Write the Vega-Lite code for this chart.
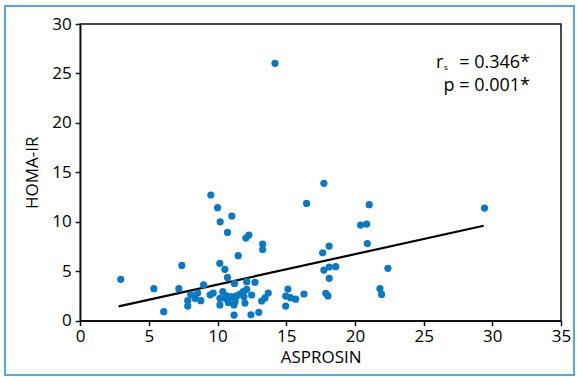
{
  "$schema": "https://vega.github.io/schema/vega-lite/v6.json",
  "width": 569,
  "height": 369,
  "autosize": {"type": "none"},
  "padding": {"left": 5, "top": 6, "right": 3, "bottom": 2},
  "background": "white",
  "config": {
    "view": {"stroke": "#5aa5dc", "strokeWidth": 2},
    "font": "Open Sans"
  },
  "datasets": {
    "points": [
      {"asprosin": 2.95, "homa": 4.18}, {"asprosin": 5.36, "homa": 3.24}, {"asprosin": 6.08, "homa": 0.91},
      {"asprosin": 7.18, "homa": 3.24}, {"asprosin": 7.40, "homa": 5.59}, {"asprosin": 7.83, "homa": 2.02},
      {"asprosin": 7.83, "homa": 1.48}, {"asprosin": 8.05, "homa": 2.65}, {"asprosin": 8.36, "homa": 2.26},
      {"asprosin": 8.55, "homa": 2.8}, {"asprosin": 8.78, "homa": 2.02}, {"asprosin": 8.98, "homa": 3.62},
      {"asprosin": 9.46, "homa": 2.62}, {"asprosin": 9.68, "homa": 2.8}, {"asprosin": 9.51, "homa": 12.71},
      {"asprosin": 10.0, "homa": 11.43}, {"asprosin": 10.19, "homa": 10.0}, {"asprosin": 10.16, "homa": 5.8},
      {"asprosin": 10.53, "homa": 5.19}, {"asprosin": 10.72, "homa": 8.93}, {"asprosin": 10.72, "homa": 4.38},
      {"asprosin": 10.38, "homa": 2.93}, {"asprosin": 10.17, "homa": 2.26}, {"asprosin": 10.17, "homa": 1.59},
      {"asprosin": 10.55, "homa": 2.26}, {"asprosin": 10.66, "homa": 2.5}, {"asprosin": 10.78, "homa": 1.85},
      {"asprosin": 11.03, "homa": 2.43}, {"asprosin": 11.04, "homa": 10.58}, {"asprosin": 11.23, "homa": 3.77},
      {"asprosin": 11.2, "homa": 0.57}, {"asprosin": 11.27, "homa": 2.26}, {"asprosin": 11.19, "homa": 1.59},
      {"asprosin": 11.27, "homa": 1.92}, {"asprosin": 11.39, "homa": 2.5}, {"asprosin": 11.5, "homa": 6.57},
      {"asprosin": 11.63, "homa": 2.7}, {"asprosin": 11.87, "homa": 2.93}, {"asprosin": 11.92, "homa": 2.43},
      {"asprosin": 11.99, "homa": 1.78}, {"asprosin": 12.12, "homa": 3.17}, {"asprosin": 12.06, "homa": 8.36},
      {"asprosin": 12.28, "homa": 8.66}, {"asprosin": 12.12, "homa": 3.95}, {"asprosin": 12.48, "homa": 2.6},
      {"asprosin": 12.43, "homa": 0.6}, {"asprosin": 12.72, "homa": 3.88}, {"asprosin": 13.0, "homa": 0.85},
      {"asprosin": 13.21, "homa": 1.99}, {"asprosin": 13.45, "homa": 2.3}, {"asprosin": 13.69, "homa": 2.8},
      {"asprosin": 13.28, "homa": 7.75}, {"asprosin": 13.28, "homa": 7.2}, {"asprosin": 14.18, "homa": 26.02},
      {"asprosin": 14.96, "homa": 1.48}, {"asprosin": 14.96, "homa": 2.49}, {"asprosin": 15.12, "homa": 3.2},
      {"asprosin": 15.3, "homa": 2.33}, {"asprosin": 15.68, "homa": 2.18}, {"asprosin": 16.29, "homa": 2.7},
      {"asprosin": 16.48, "homa": 11.86}, {"asprosin": 17.65, "homa": 6.86}, {"asprosin": 17.74, "homa": 13.89},
      {"asprosin": 17.74, "homa": 5.12}, {"asprosin": 17.88, "homa": 2.77}, {"asprosin": 18.03, "homa": 2.5},
      {"asprosin": 18.12, "homa": 7.55}, {"asprosin": 18.13, "homa": 5.43}, {"asprosin": 18.13, "homa": 4.29},
      {"asprosin": 18.6, "homa": 5.46}, {"asprosin": 20.41, "homa": 9.67}, {"asprosin": 20.85, "homa": 9.77},
      {"asprosin": 20.9, "homa": 7.8}, {"asprosin": 21.04, "homa": 11.73}, {"asprosin": 21.82, "homa": 3.24},
      {"asprosin": 21.94, "homa": 2.66}, {"asprosin": 22.4, "homa": 5.3}, {"asprosin": 29.43, "homa": 11.39}
    ],
    "fit": [
      {"asprosin": 2.8, "homa": 1.45},
      {"asprosin": 29.37, "homa": 9.6}
    ],
    "frame": [
      {"x0": 0, "x1": 35, "y0": 0, "y1": 30}
    ],
    "leftlabels": [
      {"x": 25.9, "y": 25.6, "text": "r", "size": 18},
      {"x": 26.48, "y": 25.35, "text": "s", "size": 8}
    ],
    "rightlabels": [
      {"x": 32.74, "y": 25.6, "text": "= 0.346*", "size": 18},
      {"x": 32.74, "y": 23.25, "text": "p = 0.001*", "size": 18}
    ]
  },
  "layer": [
    {
      "data": {"name": "frame"},
      "mark": {"type": "rect", "fill": null, "stroke": "#111", "strokeWidth": 1.5},
      "encoding": {
        "x": {"field": "x0", "type": "quantitative", "scale": {"domain": [0, 35], "range": [75.2, 556], "nice": false, "zero": false},
          "axis": {"values": [0, 5, 10, 15, 20, 25, 30, 35], "title": "ASPROSIN", "titleFontSize": 17, "titleFontWeight": "normal", "titleColor": "black", "titlePadding": 5,
            "labelFontSize": 17, "labelColor": "black", "labelPadding": 3, "tickColor": "#111", "domainColor": "#111", "tickSize": 5, "tickWidth": 1.5, "domainWidth": 1.5, "grid": false, "offset": -54.3, "labelFlush": false}},
        "x2": {"field": "x1"},
        "y": {"field": "y0", "type": "quantitative", "scale": {"domain": [0, 30], "range": [314.7, 18], "nice": false, "zero": false},
          "axis": {"values": [0, 5, 10, 15, 20, 25, 30], "title": "HOMA-IR", "titleFontSize": 17, "titleFontWeight": "normal", "titleColor": "black", "titlePadding": 10,
            "labelFontSize": 17, "labelColor": "black", "labelPadding": 4, "tickColor": "#111", "domainColor": "#111", "tickSize": 5, "tickWidth": 1.5, "domainWidth": 1.5, "grid": false, "offset": -75.2, "labelFlush": false}},
        "y2": {"field": "y1"}
      }
    },
    {
      "data": {"name": "fit"},
      "mark": {"type": "line", "color": "black", "strokeWidth": 2.2},
      "encoding": {
        "x": {"field": "asprosin", "type": "quantitative"},
        "y": {"field": "homa", "type": "quantitative"}
      }
    },
    {
      "data": {"name": "points"},
      "mark": {"type": "circle", "size": 52, "color": "#0b78c1", "opacity": 1},
      "encoding": {
        "x": {"field": "asprosin", "type": "quantitative"},
        "y": {"field": "homa", "type": "quantitative"}
      }
    },
    {
      "data": {"name": "leftlabels"},
      "mark": {"type": "text", "align": "left", "baseline": "alphabetic", "color": "black"},
      "encoding": {
        "x": {"field": "x", "type": "quantitative"},
        "y": {"field": "y", "type": "quantitative"},
        "text": {"field": "text"},
        "size": {"field": "size", "type": "quantitative", "scale": null}
      }
    },
    {
      "data": {"name": "rightlabels"},
      "mark": {"type": "text", "align": "right", "baseline": "alphabetic", "color": "black"},
      "encoding": {
        "x": {"field": "x", "type": "quantitative"},
        "y": {"field": "y", "type": "quantitative"},
        "text": {"field": "text"},
        "size": {"field": "size", "type": "quantitative", "scale": null}
      }
    }
  ]
}
